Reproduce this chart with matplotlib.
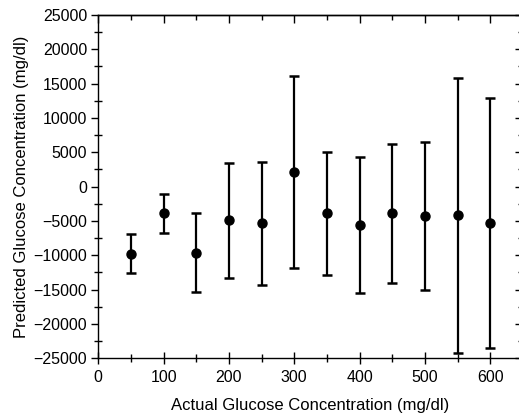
import matplotlib
matplotlib.use("Agg")
import matplotlib.pyplot as plt
from matplotlib.ticker import MultipleLocator

plt.rcParams['font.family'] = ['Liberation Sans', 'DejaVu Sans']

# data
actual = [50, 100, 150, 200, 250, 300, 350, 400, 450, 500, 550, 600]
predicted = [-9750, -3900, -9600, -4900, -5350, 2100, -3900, -5600, -3900, -4300, -4200, -5300]
error = [2850, 2875, 5700, 8375, 9000, 13950, 8925, 9950, 10175, 10800, 20050, 18150]

xticks = [0, 100, 200, 300, 400, 500, 600]
yticks = [-25000, -20000, -15000, -10000, -5000, 0, 5000, 10000, 15000, 20000, 25000]

fig = plt.figure(figsize=(5.19, 4.2), dpi=100)
ax = fig.add_axes([0.1894, 0.1469, 0.818, 0.8174])

ax.errorbar(actual, predicted, yerr=error, fmt='o', color='black',
            markersize=6.5, elinewidth=1.6, capsize=3.5, capthick=1.8)

ax.set_xlim(0, 650)
ax.set_ylim(-25000, 25000)
ax.set_xticks(xticks)
ax.set_yticks(yticks)
ax.xaxis.set_minor_locator(MultipleLocator(50))
ax.yaxis.set_minor_locator(MultipleLocator(2500))

for s in ax.spines.values():
    s.set_linewidth(1.0)

ax.tick_params(axis='x', which='major', direction='inout', length=9, width=1.0,
               top=False, labelsize=11.5, pad=4)
ax.tick_params(axis='x', which='minor', direction='inout', length=6, width=1.0, top=False)
ax.tick_params(axis='y', which='major', direction='out', length=5, width=1.0,
               right=False, labelsize=11.5, pad=3)
ax.tick_params(axis='y', which='minor', direction='inout', length=6, width=1.0, right=False)

# top and right ticks point inward
ax2 = ax.secondary_xaxis('top')
ax2.set_xticks(xticks)
ax2.xaxis.set_minor_locator(MultipleLocator(50))
ax2.tick_params(which='major', direction='in', length=6, width=1.0, labeltop=False)
ax2.tick_params(which='minor', direction='in', length=3.5, width=1.0)
ax2.spines['top'].set_linewidth(1.0)
ax3 = ax.secondary_yaxis('right')
ax3.set_yticks(yticks)
ax3.yaxis.set_minor_locator(MultipleLocator(2500))
ax3.tick_params(which='major', direction='in', length=6, width=1.0, labelright=False)
ax3.tick_params(which='minor', direction='in', length=3.5, width=1.0)

ax.set_xlabel('Actual Glucose Concentration (mg/dl)', fontsize=12, labelpad=9)
ax.set_ylabel('Predicted Glucose Concentration (mg/dl)', fontsize=12, labelpad=3)

fig.savefig('out.png', dpi=100)
